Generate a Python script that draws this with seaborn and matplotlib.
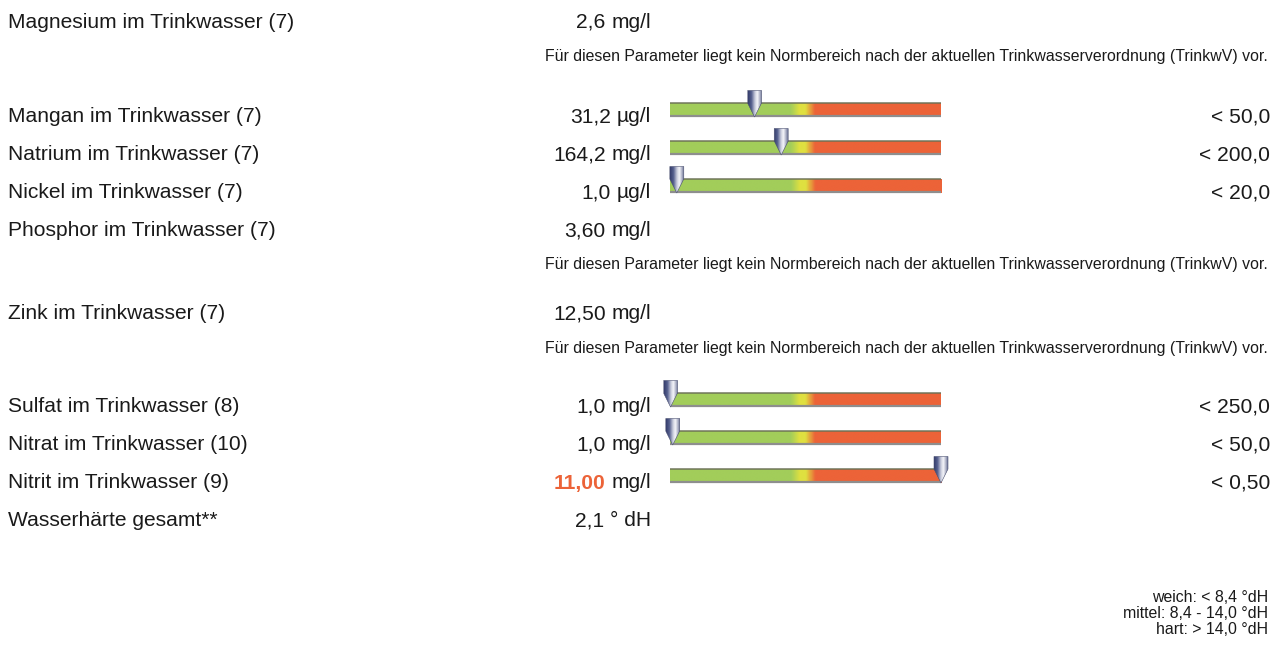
import numpy as np
import matplotlib
matplotlib.use("Agg")
import matplotlib.pyplot as plt
import seaborn as sns
import pandas as pd
from matplotlib.colors import LinearSegmentedColormap
from matplotlib.patches import Polygon

# ---------------- data ----------------
labels = [
    "Magnesium im Trinkwasser (7)",
    "Mangan im Trinkwasser (7)",
    "Natrium im Trinkwasser (7)",
    "Nickel im Trinkwasser (7)",
    "Phosphor im Trinkwasser (7)",
    "Zink im Trinkwasser (7)",
    "Sulfat im Trinkwasser (8)",
    "Nitrat im Trinkwasser (10)",
    "Nitrit im Trinkwasser (9)",
    "Wasserhärte gesamt**",
]
values = [2.6, 31.2, 164.2, 1.0, 3.60, 12.50, 1.0, 1.0, 11.00, 2.1]
value_texts = ["2,6", "31,2", "164,2", "1,0", "3,60", "12,50", "1,0", "1,0", "11,00", "2,1"]
units = ["mg/l", "µg/l", "mg/l", "µg/l", "mg/l", "mg/l", "mg/l", "mg/l", "mg/l", "° dH"]
limits = [None, 50.0, 200.0, 20.0, None, None, 250.0, 50.0, 0.50, None]
limit_texts = ["", "< 50,0", "< 200,0", "< 20,0", "", "", "< 250,0", "< 50,0", "< 0,50", ""]
has_note = [True, False, False, False, True, True, False, False, False, False]
exceeded = [False, False, False, False, False, False, False, False, True, False]
note_text = ("Für diesen Parameter liegt kein Normbereich nach der aktuellen "
             "Trinkwasserverordnung (TrinkwV) vor.")
hardness_lines = ["weich: < 8,4 °dH", "mittel: 8,4 - 14,0 °dH", "hart: > 14,0 °dH"]

# ---------------- layout ----------------
W, H = 1273, 646
row_y = [20, 115, 153, 191, 229, 312, 405, 443, 481, 519]
hard_y = [597, 613, 629]
GAUGE_L, GAUGE_R = 670, 941
VALUE_RIGHT = 651
LIMIT_RIGHT = 1270
NOTE_RIGHT = 1268

sns.set_theme(style="white")
plt.rcParams["font.family"] = ["Liberation Sans", "DejaVu Sans"]

FS = 15.1
SMALL = 11.4
TXT = "#1a1a1a"
RED = "#ec6338"
GREEN = "#a2cd5a"
YELLOW = "#dfe040"

fig = plt.figure(figsize=(W / 100, H / 100), dpi=100)
fig.patch.set_facecolor("white")
renderer = fig.canvas.get_renderer()


def fx(x):
    return x / W


def fy(y):
    return 1 - y / H


bar_cmap = LinearSegmentedColormap.from_list(
    "gauge",
    [(0.0, GREEN), (0.445, GREEN), (0.478, YELLOW), (0.5, YELLOW),
     (0.535, RED), (1.0, RED)],
)
marker_cmap = LinearSegmentedColormap.from_list(
    "pointer",
    [(0.0, "#353d6c"), (0.25, "#56608e"), (0.5, "#c9ccdc"), (0.68, "#f6f6fa"),
     (0.88, "#a4a8c0"), (1.0, "#6a7092")],
)

for i, lab in enumerate(labels):
    yb = row_y[i] + 7.5
    fig.text(fx(8), fy(yb), lab, fontsize=FS, color=TXT, ha="left", va="baseline")
    ut = fig.text(fx(VALUE_RIGHT), fy(yb), units[i], fontsize=FS, color=TXT,
                  ha="right", va="baseline")
    uw = ut.get_window_extent(renderer).width
    num_right = VALUE_RIGHT - uw - 5.8
    fig.text(fx(num_right), fy(yb), value_texts[i], fontsize=FS,
             color=RED if exceeded[i] else TXT,
             fontweight="bold" if exceeded[i] else "normal",
             ha="right", va="baseline")
    if limit_texts[i]:
        fig.text(fx(LIMIT_RIGHT), fy(yb), limit_texts[i], fontsize=FS, color=TXT,
                 ha="right", va="baseline")
    if has_note[i]:
        fig.text(fx(NOTE_RIGHT), fy(row_y[i] + 35 + 5.5), note_text, fontsize=SMALL,
                 color=TXT, ha="right", va="baseline")

for yy, t in zip(hard_y, hardness_lines):
    fig.text(fx(NOTE_RIGHT), fy(yy + 5.5), t, fontsize=SMALL, color=TXT,
             ha="right", va="baseline")

# ---------------- gauges ----------------
PAD = 10
for i in range(len(labels)):
    L = limits[i]
    if L is None:
        continue
    yc = row_y[i] - 5
    top, bottom = yc - 20, yc + 8
    ax = fig.add_axes([fx(GAUGE_L - PAD), fy(bottom),
                       (GAUGE_R - GAUGE_L + 2 * PAD) / W, (bottom - top) / H])
    xmax = 2 * L
    s = xmax / (GAUGE_R - GAUGE_L)  # data units per pixel

    df = pd.DataFrame({"Parameter": [labels[i]], "Skala": [xmax]})
    sns.barplot(data=df, x="Skala", y="Parameter", orient="h", width=14,
                color=GREEN, saturation=1, errorbar=None, ax=ax)
    bar = ax.patches[0]
    bar.set_edgecolor("none")

    grad = np.linspace(0, 1, 800).reshape(1, -1)
    im = ax.imshow(grad, cmap=bar_cmap, aspect="auto", extent=[0, xmax, 7, -7],
                   interpolation="bilinear", zorder=2)
    im.set_clip_path(bar)
    ax.hlines(-6.6, 0, xmax, color="#6b7055", lw=1.3, alpha=0.8, zorder=3)
    ax.hlines(6.4, 0, xmax, color="#8e8e8e", lw=1.6, zorder=3)

    v = min(values[i], xmax)
    hw = 7 * s
    pts = [(v - hw, -19.5), (v + hw, -19.5), (v + hw, -7), (v, 7), (v - hw, -7)]
    poly = Polygon(pts, closed=True, facecolor="none", edgecolor="#4a5070",
                   lw=0.4, zorder=5)
    ax.add_patch(poly)
    mim = ax.imshow(np.linspace(0, 1, 100).reshape(1, -1), cmap=marker_cmap,
                    aspect="auto", extent=[v - hw, v + hw, 7, -19.5],
                    interpolation="bilinear", zorder=4)
    mim.set_clip_path(poly)

    ax.set_xlim(-PAD * s, xmax + PAD * s)
    ax.set_ylim(8, -20)
    ax.set_axis_off()

fig.savefig("out.png", dpi=100, facecolor="white")
